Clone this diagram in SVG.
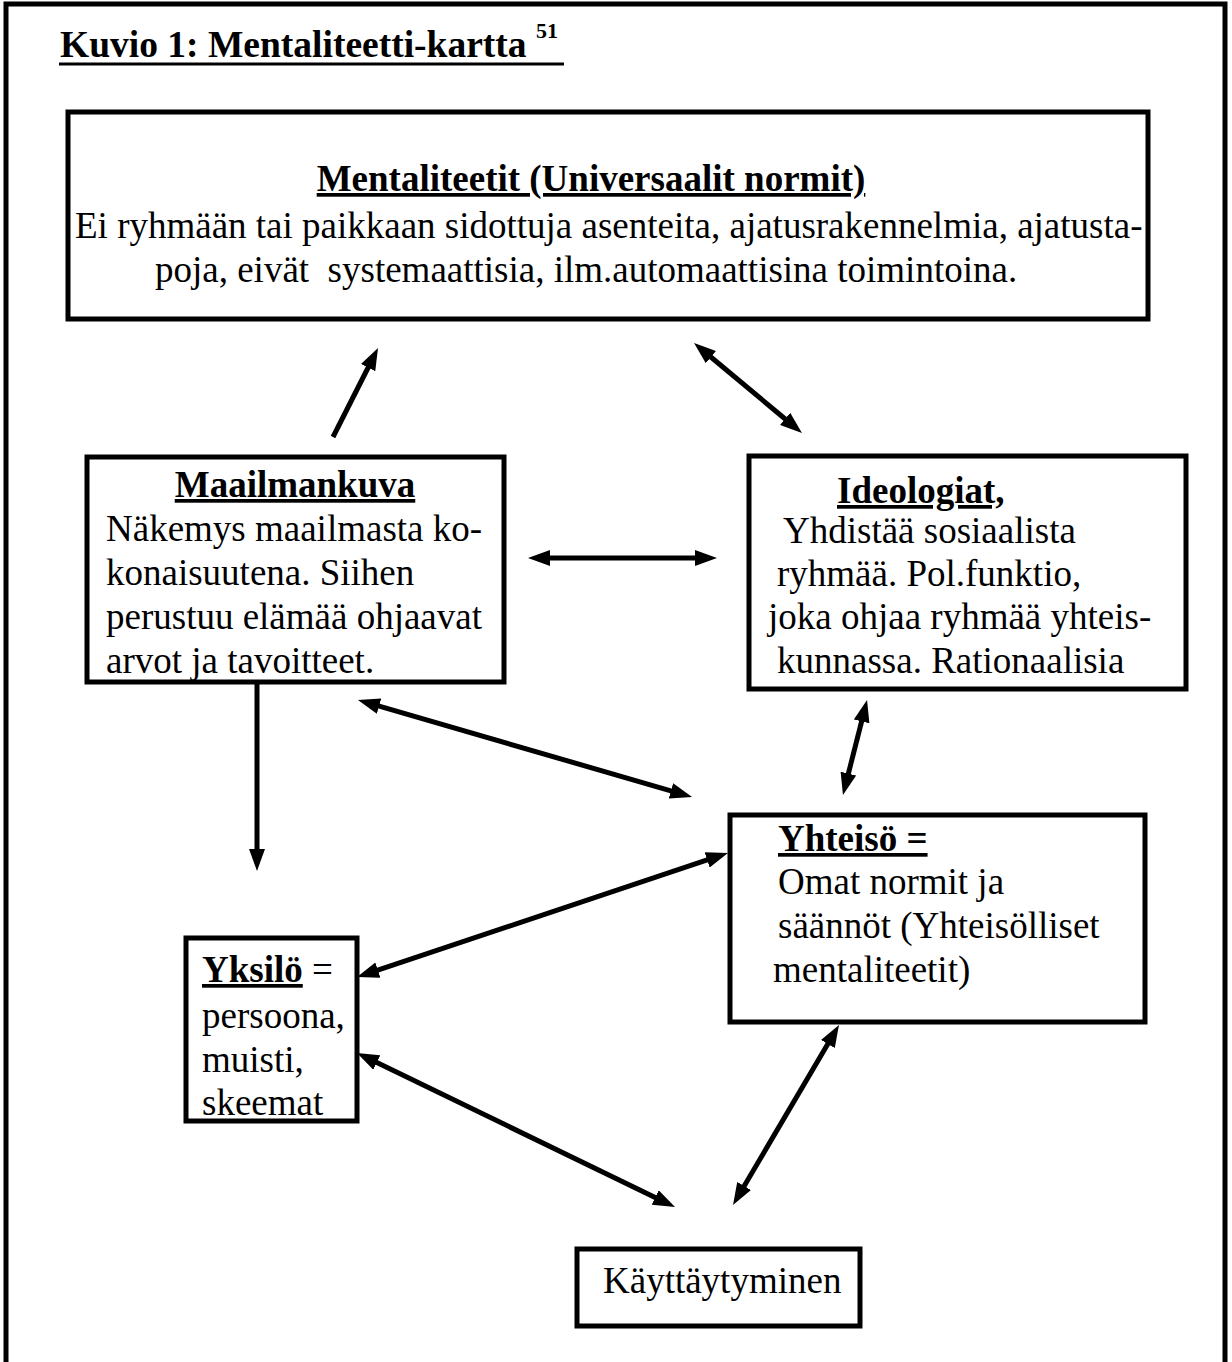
<svg xmlns="http://www.w3.org/2000/svg" width="1232" height="1362" viewBox="0 0 1232 1362">
<style>
text{font-family:"Liberation Serif","Times New Roman",serif;font-size:37px;fill:#000}
.b{font-weight:bold}
.u{text-decoration:underline}
.box{fill:#fff;stroke:#000;stroke-width:5}
.frame{fill:none;stroke:#000;stroke-width:5}
.c line{stroke:#000;stroke-width:5}
.s{marker-end:url(#ah)}
.d{marker-start:url(#ah);marker-end:url(#ah)}
</style>
<defs>
<marker id="ah" markerUnits="userSpaceOnUse" markerWidth="22" markerHeight="16" viewBox="0 0 22 16" refX="8" refY="8" orient="auto-start-reverse">
<path d="M0,0 L22,8 L0,16 z" fill="#000"/>
</marker>
</defs>
<rect width="1232" height="1362" fill="#fff"/>
<path class="frame" d="M6,1362 V4 H1225 V1362"/>
<g id="title">
<text class="b" x="60" y="57" style="font-size:37.5px">Kuvio 1: Mentaliteetti-kartta <tspan style="font-size:22px" dy="-19">51</tspan></text>
<line x1="59" y1="64" x2="564" y2="64" stroke="#000" stroke-width="3"/>
</g>
<g id="mentaliteetit">
<rect class="box" x="68" y="112" width="1080" height="207"/>
<text class="b u" x="591" y="191" text-anchor="middle">Mentaliteetit (Universaalit normit)</text>
<text x="75" y="238">Ei ryhmään tai paikkaan sidottuja asenteita, ajatusrakennelmia, ajatusta-</text>
<text x="155" y="282" style="white-space:pre">poja, eivät  systemaattisia, ilm.automaattisina toimintoina.</text>
</g>
<g id="maailmankuva">
<rect class="box" x="87" y="457" width="417" height="225"/>
<text class="b u" x="295" y="497" text-anchor="middle">Maailmankuva</text>
<text x="106" y="541">Näkemys maailmasta ko-</text>
<text x="106" y="585">konaisuutena. Siihen</text>
<text x="106" y="629">perustuu elämää ohjaavat</text>
<text x="106" y="673">arvot ja tavoitteet.</text>
</g>
<g id="ideologiat">
<rect class="box" x="749" y="456" width="437" height="233"/>
<text class="b u" x="837" y="503">Ideologiat,</text>
<text x="783" y="543">Yhdistää sosiaalista</text>
<text x="777" y="586">ryhmää. Pol.funktio,</text>
<text x="768" y="629">joka ohjaa ryhmää yhteis-</text>
<text x="777" y="673">kunnassa. Rationaalisia</text>
</g>
<g id="yhteiso">
<rect class="box" x="730" y="815" width="415" height="207"/>
<text class="b u" x="778" y="851">Yhteisö =</text>
<text x="778" y="894">Omat normit ja</text>
<text x="778" y="938">säännöt (Yhteisölliset</text>
<text x="773" y="982">mentaliteetit)</text>
</g>
<g id="yksilo">
<rect class="box" x="186" y="938" width="171" height="183"/>
<text x="202" y="982"><tspan class="b u">Yksilö</tspan> =</text>
<text x="202" y="1028">persoona,</text>
<text x="202" y="1072">muisti,</text>
<text x="202" y="1115">skeemat</text>
</g>
<g id="kayttaytyminen">
<rect class="box" x="577" y="1249" width="283" height="77"/>
<text x="603" y="1293">Käyttäytyminen</text>
</g>
<g id="connectors" class="c">
<line class="s" x1="333" y1="437" x2="371.7" y2="360.5"/>
<line class="d" x1="704.8" y1="352" x2="791.2" y2="424"/>
<line class="d" x1="542" y1="558" x2="703" y2="558"/>
<line class="s" x1="257" y1="684" x2="257" y2="857"/>
<line class="d" x1="371.4" y1="703.9" x2="678.6" y2="793.1"/>
<line class="d" x1="863.6" y1="713.6" x2="846.4" y2="781.4"/>
<line class="d" x1="370.3" y1="972.6" x2="714.7" y2="857.4"/>
<line class="d" x1="369.6" y1="1059.1" x2="662.4" y2="1200.9"/>
<line class="d" x1="831.9" y1="1037.1" x2="740.1" y2="1192.9"/>
</g>
</svg>
